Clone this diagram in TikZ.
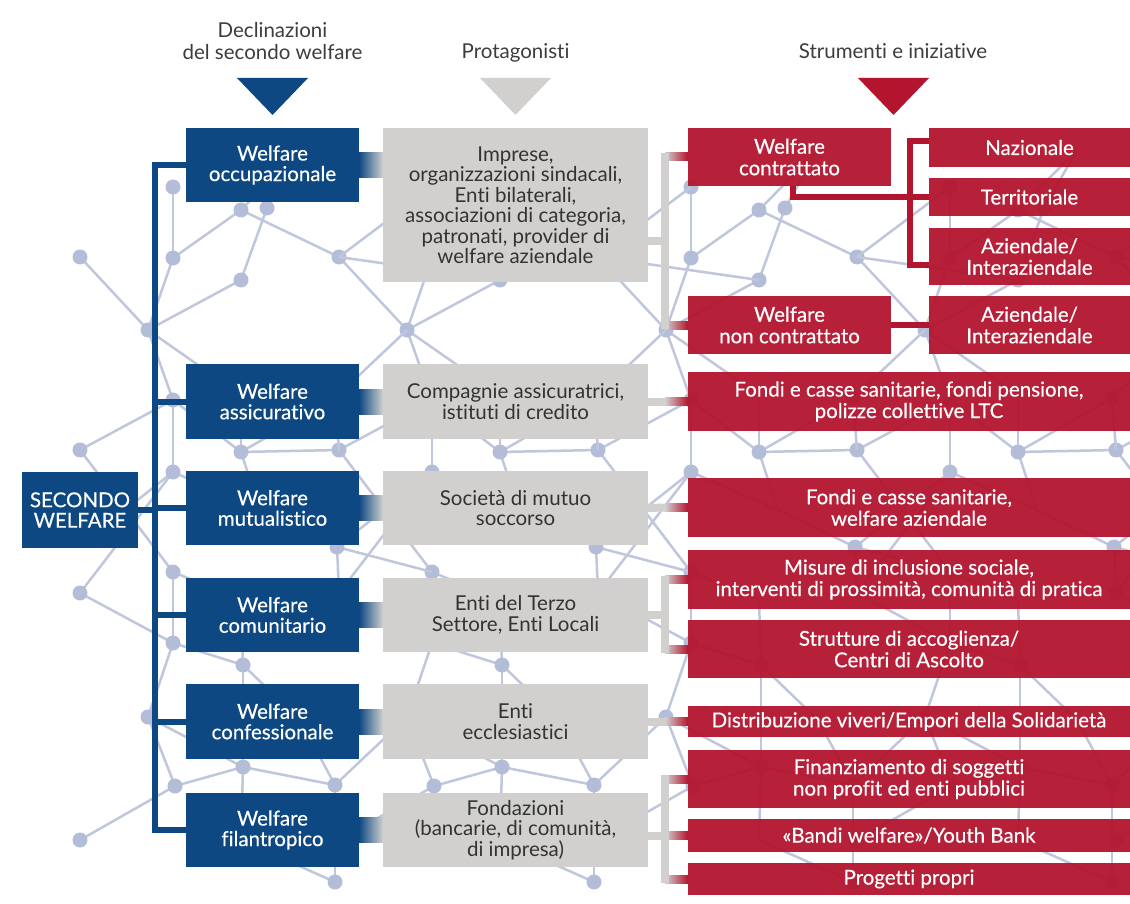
\documentclass[tikz,border=0pt]{standalone}
\usepackage{fontspec}
\setmainfont{Lato}[Ligatures=NoCommon]
\newfontfamily\wfont{Lato}[FakeBold=0.4, Ligatures=NoCommon]
\usetikzlibrary{calc}
\definecolor{wblue}{HTML}{0D4882}
\definecolor{wred}{HTML}{B3152E}
\definecolor{wgray}{HTML}{D1D0CF}
\definecolor{wtext}{HTML}{333333}
\definecolor{hdrcol}{HTML}{3D3D3D}
\definecolor{netc}{HTML}{C0C7DC}
\definecolor{netd}{HTML}{B3BDD7}
\newcommand\mybox[7]{%
  \node[#2, minimum width={(#5-#3)*1pt}, minimum height={(#6-#4)*1pt}] (#1) at ({(#3+#5)/2},{(#4+#6)/2}) {#7};}
\tikzset{
  anybox/.style={rectangle, inner sep=0pt, outer sep=0pt, align=center},
  bluebox/.style={anybox, fill=wblue, text=white, font=\wfont\fontsize{20.5}{20.5}\selectfont},
  graybox/.style={anybox, fill=wgray, text=wtext, font=\fontsize{20.5}{20.5}\selectfont},
  redbox/.style={anybox, fill=wred, fill opacity=0.95, text opacity=1, text=white, font=\wfont\fontsize{20.5}{21.5}\selectfont},
  hdr/.style={inner sep=0pt, anchor=base, text=hdrcol, font=\fontsize{20.5}{22}\selectfont},
  bluecon/.style={draw=wblue, line width=6pt, line join=miter},
  graycon/.style={draw=wgray, line width=8pt},
  redcon/.style={draw=wred, line width=6pt, line join=miter},
  netline/.style={draw=netc, line width=2.5pt},
}
\begin{document}
\begin{tikzpicture}[x=1pt,y=-1pt]
\useasboundingbox (0,0) rectangle (1130,904);
\fill[white] (0,0) rectangle (1130,904);
% background network
\begin{scope}
\clip (0,0) rectangle (1130,904);
\foreach \k in {0,...,4}{
  \begin{scope}[xshift={\k*259pt}]
  \foreach \xa/\ya/\xb/\yb in {80/257/148/330, 173/187/173/258, 173/258/241/210, 241/210/339/257,
     267/208/241/280, 241/280/148/330, 173/258/148/330, 148/330/173/400, 267/208/300/150,
     241/210/300/150, 148/330/241/395, 241/395/241/452, 173/400/173/472, 173/400/241/452,
     241/452/335/398, 80/450/173/400, 80/450/173/572, 241/452/339/450, 173/472/78/547,
     173/472/80/593, 173/472/260/510, 241/452/260/510, 260/510/337/547, 173/572/241/600,
     173/572/173/643, 80/593/173/643, 241/600/243/665, 173/643/243/665, 173/643/148/717,
     243/665/243/767, 148/717/243/767, 148/717/175/786, 243/767/175/786, 175/786/80/840,
     243/767/335/785, 243/665/300/720, 300/720/335/785, 243/767/241/840, 241/840/335/882}
     \draw[netline] (\xa,\ya) -- (\xb,\yb);
  \foreach \xa/\ya in {80/257, 173/187, 241/210, 267/208, 173/258, 241/280, 148/330, 80/450,
     173/400, 241/452, 173/472, 173/572, 80/593, 173/643, 243/665, 148/717, 243/767, 175/786, 80/840}
     \fill[netd] (\xa,\ya) circle[radius=7.5pt];
  \end{scope}
}
\foreach \k in {1,...,4}{
  \begin{scope}[xshift={\k*259pt}]
  \foreach \xa/\ya/\xb/\yb in {80/257/241/280, 80/257/173/187, 148/330/76/398, 76/398/80/450,
     78/547/173/572, 78/547/80/593, 76/785/148/717, 76/785/76/882}
     \draw[netline] (\xa,\ya) -- (\xb,\yb);
  \foreach \xa/\ya in {76/398, 78/547, 76/785, 76/882}
     \fill[netd] (\xa,\ya) circle[radius=7.5pt];
  \end{scope}
}
\end{scope}
% blue and gray boxes
\mybox{occ}{bluebox}{186}{128}{359}{202}{Welfare\\occupazionale}
\mybox{ass}{bluebox}{186}{364}{359}{439}{Welfare\\assicurativo}
\mybox{mut}{bluebox}{186}{471}{359}{545}{Welfare\\mutualistico}
\mybox{com}{bluebox}{186}{578}{359}{652}{Welfare\\comunitario}
\mybox{con}{bluebox}{186}{684}{359}{759}{Welfare\\confessionale}
\mybox{fil}{bluebox}{186}{793}{359}{867}{Welfare\\filantropico}
\mybox{sw}{bluebox}{22}{472}{138}{548}{SECONDO\\WELFARE}
\mybox{gocc}{graybox}{383}{128}{648}{282}{Imprese,\\organizzazioni sindacali,\\Enti bilaterali,\\associazioni di categoria,\\patronati, provider di\\welfare aziendale}
\mybox{gass}{graybox}{383}{364}{648}{439}{Compagnie assicuratrici,\\istituti di credito}
\mybox{gmut}{graybox}{383}{471}{648}{545}{Società di mutuo\\soccorso}
\mybox{gcom}{graybox}{383}{578}{648}{652}{Enti del Terzo\\Settore, Enti Locali}
\mybox{gcon}{graybox}{383}{684}{648}{759}{Enti\\ecclesiastici}
\mybox{gfil}{graybox}{383}{793}{648}{867}{Fondazioni\\(bancarie, di comunità,\\di impresa)}
% blue connectors
\draw[bluecon] (occ.west) -- ++(-31,0) coordinate (bartop) |- (fil.west);
\foreach \n in {ass,mut,com,con}{\draw[bluecon] (\n.west) -- (\n.west -| bartop);}
\draw[bluecon] (sw.east) -- (sw.east -| bartop);
\foreach \a/\b in {occ/gocc, ass/gass, mut/gmut, com/gcom, con/gcon, fil/gfil}{
  \shade[left color=wblue, right color=wgray] ($(\a.east)+(0,-12.5)$) rectangle ($(\b.west |- \a.east)+(0,12.5)$);}
\coordinate (gx) at (665,241);
\coordinate (rb) at (910,141);
% red boxes
\mybox{contr}{redbox}{688}{128}{891}{186}{Welfare\\contrattato}
\mybox{ncontr}{redbox}{688}{296}{891}{354}{Welfare\\non contrattato}
\mybox{naz}{redbox}{929}{128}{1130}{167}{Nazionale}
\mybox{terr}{redbox}{929}{178}{1130}{216}{Territoriale}
\mybox{azi1}{redbox}{929}{228}{1130}{285}{Aziendale/\\Interaziendale}
\mybox{azi2}{redbox}{929}{296}{1130}{354}{Aziendale/\\Interaziendale}
\mybox{fltc}{redbox}{688}{372}{1130}{431}{Fondi e casse sanitarie, fondi pensione,\\polizze collettive LTC}
\mybox{fsan}{redbox}{688}{478}{1130}{537}{Fondi e casse sanitarie,\\welfare aziendale}
\mybox{mis}{redbox}{688}{550}{1130}{609}{Misure di inclusione sociale,\\interventi di prossimità, comunità di pratica}
\mybox{str}{redbox}{688}{620}{1130}{678}{Strutture di accoglienza/\\Centri di Ascolto}
\mybox{dis}{redbox}{688}{706}{1130}{737}{Distribuzione viveri/Empori della Solidarietà}
\mybox{fin}{redbox}{688}{750}{1130}{808}{Finanziamento di soggetti\\non profit ed enti pubblici}
\mybox{ban}{redbox}{688}{819}{1130}{852}{«Bandi welfare»/Youth Bank}
\mybox{pro}{redbox}{688}{863}{1130}{895}{Progetti propri}
% gray -> red stubs (shading)
\foreach \t in {contr, ncontr, mis, str, fin, ban, pro, fltc, fsan, dis}{
  \shade[left color=wgray, right color=wred] ($(gx |- \t.west)+(0,-4)$) rectangle ($(\t.west)+(0,4)$);}
% gray lines
\draw[graycon] (gocc.east |- gx) -- (gx);
\draw[graycon, line cap=rect] (gx |- contr.west) -- (gx |- ncontr.west);
\draw[graycon] (gcom.east) -- (gx |- gcom.east);
\draw[graycon, line cap=rect] (gx |- mis.west) -- (gx |- str.west);
\draw[graycon] (gfil.east |- ban.west) -- (gx |- ban.west);
\draw[graycon, line cap=rect] (gx |- fin.west) -- (gx |- pro.west);
\foreach \a/\b in {gass/fltc, gmut/fsan, gcon/dis}{\draw[graycon] (\a.east) -- (gx |- \b.west);}
% red lines
\draw[redcon] (contr.south -| 793,0) |- (terr.west);
\draw[redcon] (naz.west |- rb) -- (rb) -- (rb |- 0,265) -- (azi1.west |- 0,265);
\draw[redcon] (ncontr.east) -- (azi2.west);
% headers and triangles
\node[hdr] (hd1) at (272.5,38) {Declinazioni};
\node[hdr] (hd2) at (272.5,60) {del secondo welfare};
\node[hdr] (hd3) at (515.5,59) {Protagonisti};
\node[hdr] (hd4) at (893,59) {Strumenti e iniziative};
\fill[wblue] (237,78) -- (308,78) -- (272.5,115) -- cycle;
\fill[wgray] (480,78) -- (551,78) -- (515.5,115) -- cycle;
\fill[wred] (858,78) -- (929,78) -- (893.5,115) -- cycle;
\end{tikzpicture}
\end{document}
